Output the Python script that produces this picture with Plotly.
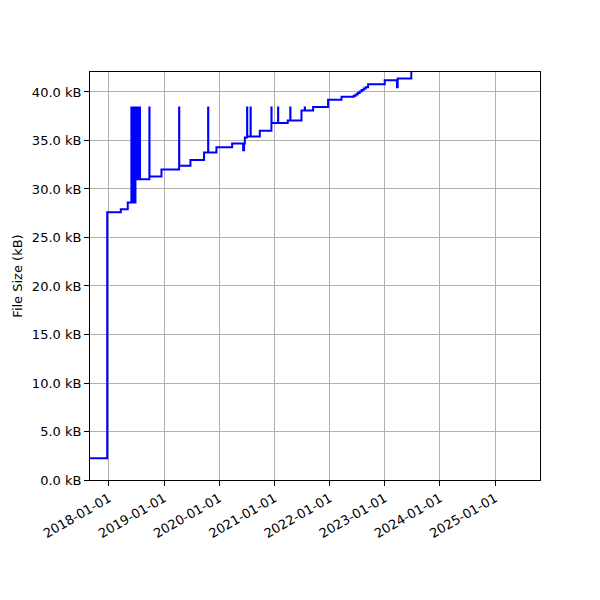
import pandas as pd
import plotly.graph_objects as go

# Commit history: date and file size (kB)
commit_dates = [
    "2017-08-01", "2017-12-21", "2018-03-21", "2018-05-06", "2018-06-26",
    "2018-09-27", "2018-12-15", "2019-04-12", "2019-06-25", "2019-09-23",
    "2019-12-14", "2020-03-27", "2020-06-08", "2020-06-14", "2020-06-19",
    "2020-07-05", "2020-09-26", "2020-12-13", "2021-03-30", "2021-06-29",
    "2021-09-14", "2021-12-22", "2022-03-21", "2022-06-10", "2022-06-23",
    "2022-07-06", "2022-07-19", "2022-08-01", "2022-08-15", "2022-08-28",
    "2022-09-13", "2023-01-01", "2023-03-23", "2023-03-28", "2023-06-26",
]
commit_sizes = [
    2.24, 27.6, 27.9, 28.6, 31.0,
    31.3, 32.0, 32.4, 33.0, 33.75,
    34.3, 34.7, 34.0, 34.7, 35.3,
    35.4, 36.0, 36.8, 37.05, 38.1,
    38.45, 39.2, 39.5, 39.6, 39.75,
    39.9, 40.05, 40.2, 40.35, 40.5,
    40.8, 41.2, 40.5, 41.4, 42.6,
]

# Short-lived versions that jumped to a larger size
spike_dates = [
    "2018-05-30", "2018-06-03", "2018-06-07", "2018-06-11", "2018-06-15",
    "2018-06-19", "2018-06-23", "2018-06-28", "2018-07-02", "2018-07-06",
    "2018-07-10", "2018-07-14", "2018-07-18", "2018-07-22", "2018-07-25",
    "2018-09-26", "2019-04-11", "2019-10-20", "2020-07-04", "2020-07-27",
    "2020-12-12", "2021-01-25", "2021-04-16", "2021-07-21",
]
spike_size = 38.4

year_ticks = ["2018-01-01", "2019-01-01", "2020-01-01", "2021-01-01",
              "2022-01-01", "2023-01-01", "2024-01-01", "2025-01-01"]
y_ticks = [0, 5, 10, 15, 20, 25, 30, 35, 40]
y_tick_labels = [f"{v:.1f} kB" for v in y_ticks]

base = pd.Series(commit_sizes, index=pd.to_datetime(commit_dates)).sort_index()
points = list(zip(base.index, base.values))
for d in pd.to_datetime(spike_dates):
    nxt = d + pd.Timedelta(days=1)
    points.append((d, spike_size))
    points.append((nxt, float(base[base.index <= nxt].iloc[-1])))
points.sort(key=lambda p: p[0])
xs = [p[0] for p in points]
ys = [p[1] for p in points]

fig = go.Figure()
fig.add_trace(go.Scatter(
    x=xs, y=ys, mode="lines", line=dict(color="#0000ff", width=2, shape="hv"),
    showlegend=False, hoverinfo="skip",
))

axis_common = dict(
    showline=True, mirror=True, linecolor="black", linewidth=1,
    ticks="outside", ticklen=5, tickwidth=1, tickcolor="black",
    showgrid=True, gridcolor="#b0b0b0", gridwidth=1, zeroline=False,
    tickfont=dict(family="DejaVu Sans", size=13, color="black"),
)
fig.update_xaxes(
    type="date", range=["2017-08-29", "2025-10-25"],
    tickvals=year_ticks, tickformat="%Y-%m-%d", tickangle=-30,
    **axis_common,
)
fig.update_yaxes(
    range=[0, 42.06], tickvals=y_ticks, ticktext=y_tick_labels,
    title=dict(text="File Size (kB)", standoff=6,
               font=dict(family="DejaVu Sans", size=13, color="black")),
    automargin=False,
    **axis_common,
)
fig.update_layout(
    width=600, height=600,
    margin=dict(l=82, r=68, t=64, b=128),
    paper_bgcolor="white", plot_bgcolor="white",
    font=dict(family="DejaVu Sans", size=13, color="black"),
)
fig.write_html("out.html")
